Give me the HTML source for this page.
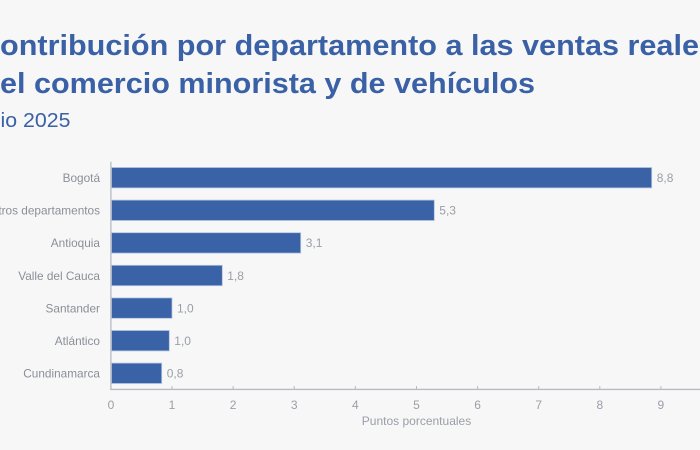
<!DOCTYPE html>
<html>
<head>
<meta charset="utf-8">
<style>
  html,body{margin:0;padding:0;background:#f7f7f7;}
  svg{display:block;}
  text{font-family:"Liberation Sans",sans-serif;}
</style>
</head>
<body>
<svg width="700" height="450" viewBox="0 0 700 450" xmlns="http://www.w3.org/2000/svg">
  <rect x="0" y="0" width="700" height="450" fill="#f7f7f7"/>
  <!-- Title -->
  <text x="0" y="55" font-size="29" font-weight="bold" fill="#3a61a6" textLength="716" lengthAdjust="spacingAndGlyphs">ontribución por departamento a las ventas reales</text>
  <text x="0" y="93" font-size="29" font-weight="bold" fill="#3a61a6" textLength="535" lengthAdjust="spacingAndGlyphs">el comercio minorista y de vehículos</text>
  <text x="0.5" y="127" font-size="20" fill="#3a61a6" textLength="70" lengthAdjust="spacingAndGlyphs">io 2025</text>

  <!-- Bars -->
  <g fill="#3a62a7" stroke="#b3c4e2" stroke-width="0.8">
    <rect x="111.5" y="167.5" width="540.2" height="20.4"/>
    <rect x="111.5" y="200.1" width="322.8" height="20.4"/>
    <rect x="111.5" y="232.7" width="189.2" height="20.4"/>
    <rect x="111.5" y="265.3" width="110.8" height="20.4"/>
    <rect x="111.5" y="297.9" width="60.5" height="20.4"/>
    <rect x="111.5" y="330.5" width="57.8" height="20.4"/>
    <rect x="111.5" y="363.1" width="50.2" height="20.4"/>
  </g>

  <!-- Category labels -->
  <g font-size="11.8" fill="#8a8f98" text-anchor="end">
    <text x="100" y="182">Bogotá</text>
    <text x="100" y="214.6">Otros departamentos</text>
    <text x="100" y="247.2">Antioquia</text>
    <text x="100" y="279.8">Valle del Cauca</text>
    <text x="100" y="312.4">Santander</text>
    <text x="100" y="345">Atlántico</text>
    <text x="100" y="377.6">Cundinamarca</text>
  </g>

  <!-- Value labels -->
  <g font-size="12" fill="#9a9fa7">
    <text x="656.7" y="182">8,8</text>
    <text x="439.3" y="214.6">5,3</text>
    <text x="305.7" y="247.2">3,1</text>
    <text x="227.3" y="279.8">1,8</text>
    <text x="177" y="312.4">1,0</text>
    <text x="174.3" y="345">1,0</text>
    <text x="166.7" y="377.6">0,8</text>
  </g>

  <!-- Axes -->
  <line x1="110.9" y1="161.7" x2="110.9" y2="390" stroke="#b7bbc1" stroke-width="1.3"/>
  <line x1="110.3" y1="389.4" x2="700" y2="389.4" stroke="#b7bbc1" stroke-width="1.4"/>
  <g stroke="#b7bbc1" stroke-width="1">
    <line x1="172" y1="386" x2="172" y2="389"/>
    <line x1="233.1" y1="386" x2="233.1" y2="389"/>
    <line x1="294.2" y1="386" x2="294.2" y2="389"/>
    <line x1="355.4" y1="386" x2="355.4" y2="389"/>
    <line x1="416.5" y1="386" x2="416.5" y2="389"/>
    <line x1="477.6" y1="386" x2="477.6" y2="389"/>
    <line x1="538.7" y1="386" x2="538.7" y2="389"/>
    <line x1="599.8" y1="386" x2="599.8" y2="389"/>
    <line x1="660.9" y1="386" x2="660.9" y2="389"/>
  </g>
  <g font-size="12" fill="#9a9fa7" text-anchor="middle">
    <text x="111" y="408.8">0</text>
    <text x="172" y="408.8">1</text>
    <text x="233.1" y="408.8">2</text>
    <text x="294.2" y="408.8">3</text>
    <text x="355.4" y="408.8">4</text>
    <text x="416.5" y="408.8">5</text>
    <text x="477.6" y="408.8">6</text>
    <text x="538.7" y="408.8">7</text>
    <text x="599.8" y="408.8">8</text>
    <text x="660.9" y="408.8">9</text>
  </g>
  <text x="416.5" y="425" font-size="12" fill="#9a9fa7" text-anchor="middle">Puntos porcentuales</text>
</svg>
</body>
</html>
